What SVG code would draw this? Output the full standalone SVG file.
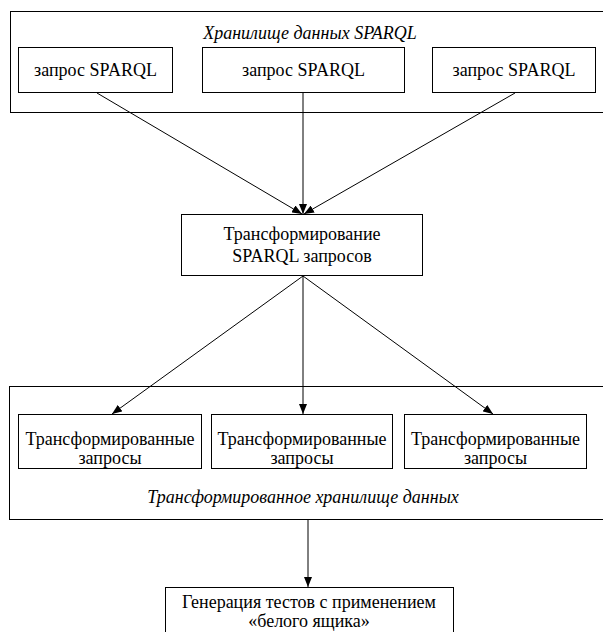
<svg xmlns="http://www.w3.org/2000/svg" width="603" height="632" viewBox="0 0 603 632">
<style>
.b{fill:#fff;stroke:#000;stroke-width:1}
text{font-family:"Liberation Serif","Times New Roman",serif;font-size:18px;fill:#000;text-anchor:middle}
.it{font-style:italic}
.c line{stroke:#000;stroke-width:1}
</style>
<defs>
<marker id="ah" markerWidth="10" markerHeight="8" refX="10" refY="4" orient="auto" markerUnits="userSpaceOnUse">
<path d="M0,0 L10,4 L0,8 Z" fill="#000"/>
</marker>
</defs>
<rect width="603" height="632" fill="#fff"/>
<g id="store">
<rect class="b" x="10.5" y="11.5" width="620" height="101"/>
<text class="it" x="310" y="39">Хранилище данных SPARQL</text>
</g>
<g id="q1"><rect class="b" x="18.5" y="47.5" width="154" height="45"/><text x="95.5" y="76">запрос SPARQL</text></g>
<g id="q2"><rect class="b" x="202.5" y="47.5" width="202" height="45"/><text x="303.5" y="76">запрос SPARQL</text></g>
<g id="q3"><rect class="b" x="432.5" y="47.5" width="163" height="45"/><text x="514" y="76">запрос SPARQL</text></g>
<g id="transform"><rect class="b" x="181.5" y="214.5" width="241" height="61"/><text x="302" y="240">Трансформирование</text><text x="302" y="262">SPARQL запросов</text></g>
<g id="tstore">
<rect class="b" x="9.5" y="386.5" width="620" height="133"/>
<text class="it" x="303" y="503">Трансформированное хранилище данных</text>
</g>
<g id="t1"><rect class="b" x="18.5" y="414.5" width="183" height="54"/><text x="110" y="445">Трансформированные</text><text x="110" y="464">запросы</text></g>
<g id="t2"><rect class="b" x="211.5" y="414.5" width="181" height="54"/><text x="302" y="445">Трансформированные</text><text x="302" y="464">запросы</text></g>
<g id="t3"><rect class="b" x="404.5" y="414.5" width="182" height="54"/><text x="495.5" y="445">Трансформированные</text><text x="495.5" y="464">запросы</text></g>
<g id="gen"><rect class="b" x="165.5" y="587.5" width="288" height="60"/><text x="309" y="608">Генерация тестов с применением</text><text x="309" y="627">«белого ящика»</text></g>
<g class="c" id="connectors">
<line x1="97" y1="93" x2="302" y2="214" marker-end="url(#ah)"/>
<line x1="303" y1="93" x2="303" y2="214" marker-end="url(#ah)"/>
<line x1="515" y1="93" x2="304" y2="214" marker-end="url(#ah)"/>
<line x1="303" y1="276" x2="112" y2="414" marker-end="url(#ah)"/>
<line x1="303" y1="276" x2="303" y2="414" marker-end="url(#ah)"/>
<line x1="303" y1="276" x2="493" y2="414" marker-end="url(#ah)"/>
<line x1="308" y1="520" x2="308" y2="587" marker-end="url(#ah)"/>
</g>
</svg>
